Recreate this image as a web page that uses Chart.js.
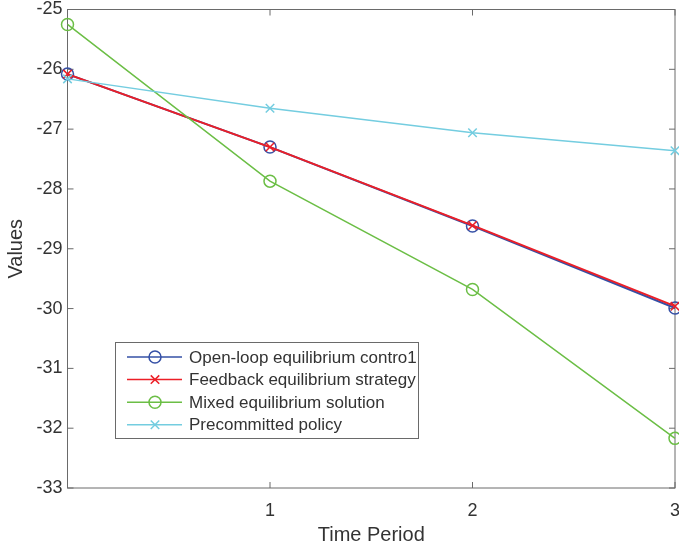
<!DOCTYPE html>
<html>
<head>
<meta charset="utf-8">
<script src="https://cdn.jsdelivr.net/npm/chart.js@4/dist/chart.umd.min.js"></script>
<style>
    html, body { margin: 0; padding: 0; background: #fff; }
    #wrap { width: 679px; height: 551px; }
</style>
</head>
<body>
<div id="wrap"><canvas id="chart"></canvas></div>
<script>
const periods = [0, 1, 2, 3];
const xTicks = [1, 2, 3];
const yTicks = [-33, -32, -31, -30, -29, -28, -27, -26, -25];

const openLoop = [-26.08, -27.30, -28.62, -29.99];
const feedback = [-26.08, -27.30, -28.61, -29.96];
const mixed = [-25.25, -27.87, -29.68, -32.17];
const precommitted = [-26.16, -26.65, -27.06, -27.36];

const seriesNames = [
    'Open-loop equilibrium contro1',
    'Feedback equilibrium strategy',
    'Mixed equilibrium solution',
    'Precommitted policy'
];
const seriesColors = ['#3550a6', '#ec1f27', '#6bbe45', '#74cde0'];

const FONT = 'Liberation Sans, Arial, Helvetica, sans-serif';
const TEXT = '#333333';
const AXIS = '#6a6a6a';

function toPoints(values) {
    return values.map((v, i) => ({x: periods[i], y: v}));
}

// MATLAB style box with inward ticks on all four sides
const boxPlugin = {
    id: 'matlabBox',
    beforeDatasetsDraw(chart) {
        const {ctx, chartArea: a, scales} = chart;
        const len = 6;
        ctx.save();
        ctx.strokeStyle = AXIS;
        ctx.lineWidth = 1;
        ctx.strokeRect(a.left, a.top, a.right - a.left, a.bottom - a.top);
        ctx.beginPath();
        xTicks.forEach(v => {
            const px = scales.x.getPixelForValue(v);
            ctx.moveTo(px, a.bottom); ctx.lineTo(px, a.bottom - len);
            ctx.moveTo(px, a.top); ctx.lineTo(px, a.top + len);
        });
        yTicks.forEach(v => {
            const py = scales.y.getPixelForValue(v);
            ctx.moveTo(a.left, py); ctx.lineTo(a.left + len, py);
            ctx.moveTo(a.right, py); ctx.lineTo(a.right - len, py);
        });
        ctx.stroke();
        ctx.restore();
    }
};

function drawMarker(ctx, style, x, y, r) {
    ctx.beginPath();
    if (style === 'circle') {
        ctx.arc(x, y, r, 0, Math.PI * 2);
    } else {
        const d = r * Math.SQRT1_2;
        ctx.moveTo(x - d, y - d); ctx.lineTo(x + d, y + d);
        ctx.moveTo(x - d, y + d); ctx.lineTo(x + d, y - d);
    }
    ctx.stroke();
}

// legend inside the axes, lower left
const legendPlugin = {
    id: 'innerLegend',
    afterDatasetsDraw(chart) {
        const {ctx} = chart;
        const bx = 115, by = 342, bw = 303, bh = 96;
        ctx.save();
        ctx.fillStyle = '#fff';
        ctx.fillRect(bx, by, bw, bh);
        ctx.strokeStyle = AXIS;
        ctx.lineWidth = 1;
        ctx.strokeRect(bx + 0.5, by + 0.5, bw, bh);
        ctx.font = '17px ' + FONT;
        ctx.textBaseline = 'middle';
        chart.data.datasets.forEach((ds, i) => {
            const y = by + 15 + i * 22.6;
            ctx.strokeStyle = ds.borderColor;
            ctx.lineWidth = 1.5;
            ctx.beginPath();
            ctx.moveTo(127, y); ctx.lineTo(182, y);
            ctx.stroke();
            drawMarker(ctx, ds.pointStyle, 155, y, ds.pointRadius);
            ctx.fillStyle = TEXT;
            ctx.fillText(ds.label, 189, y + 1);
        });
        ctx.restore();
    }
};

const markers = ['circle', 'crossRot', 'circle', 'crossRot'];
const widths = [2, 2, 1.5, 1.5];
const orders = [4, 3, 2, 1];

const datasets = [openLoop, feedback, mixed, precommitted].map((vals, i) => ({
    label: seriesNames[i],
    data: toPoints(vals),
    borderColor: seriesColors[i],
    backgroundColor: seriesColors[i],
    borderWidth: widths[i],
    pointStyle: markers[i],
    pointRadius: 6,
    pointBorderWidth: 1.5,
    pointBackgroundColor: 'rgba(0,0,0,0)',
    pointBorderColor: seriesColors[i],
    tension: 0,
    clip: false,
    order: orders[i]
}));

new Chart(document.getElementById('chart'), {
    type: 'line',
    data: {datasets: datasets},
    options: {
        responsive: true,
        maintainAspectRatio: false,
        animation: false,
        layout: {autoPadding: false, padding: {top: 9.5, right: 4, left: 0, bottom: 0}},
        plugins: {
            legend: {display: false},
            tooltip: {enabled: false}
        },
        scales: {
            x: {
                type: 'linear',
                min: 0,
                max: 3,
                afterBuildTicks: s => { s.ticks = xTicks.map(v => ({value: v})); },
                afterFit: s => {
                    s.height = 63;
                    s.paddingLeft = 0;
                    s.paddingRight = 0;
                },
                grid: {display: false, drawTicks: false},
                border: {display: false},
                ticks: {padding: 12, color: TEXT, font: {family: FONT, size: 18}},
                title: {display: true, text: 'Time Period', color: TEXT, font: {family: FONT, size: 20}}
            },
            y: {
                min: -33,
                max: -25,
                afterBuildTicks: s => { s.ticks = yTicks.map(v => ({value: v})); },
                afterFit: s => {
                    s.width = 67.5;
                    s.paddingTop = 0;
                    s.paddingBottom = 0;
                },
                grid: {display: false, drawTicks: false},
                border: {display: false},
                ticks: {padding: 5, color: TEXT, font: {family: FONT, size: 18}},
                title: {display: true, text: 'Values', color: TEXT, font: {family: FONT, size: 20}}
            }
        }
    },
    plugins: [boxPlugin, legendPlugin]
});
</script>
</body>
</html>
